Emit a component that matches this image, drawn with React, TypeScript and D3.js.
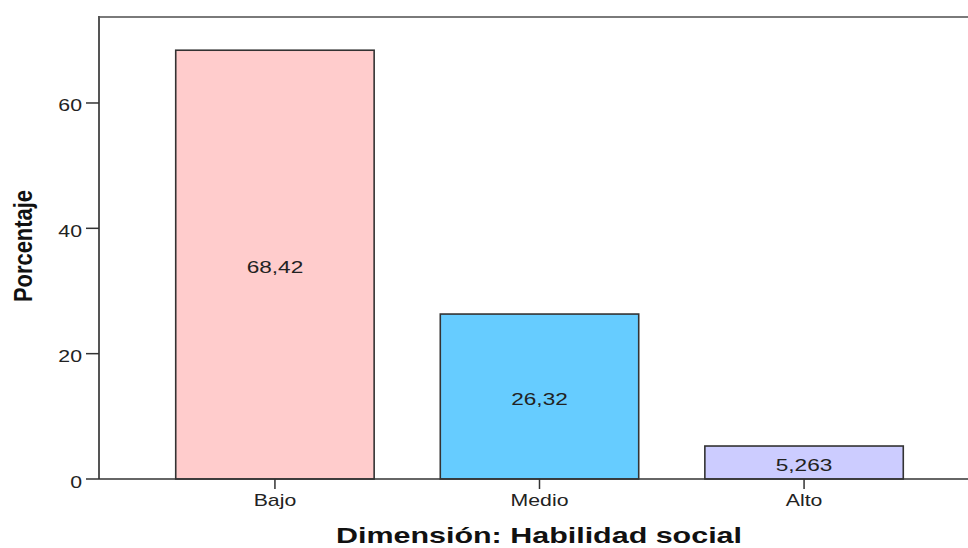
import React from "react";
import * as d3 from "d3";

const categories = ["Bajo", "Medio", "Alto"];
const percentages = [68.42, 26.32, 5.263];
const valueLabels = ["68,42", "26,32", "5,263"];
const barColors = ["#FFCCCC", "#66CCFF", "#CCCCFF"];
const yTicks = [0, 20, 40, 60];
const xTitle = "Dimensión: Habilidad social";
const yTitle = "Porcentaje";

const W = 968;
const H = 548;
const left = 99;
const top = 17;
const bottom = 479;
const SX = 1.33;
const font = "'Liberation Sans', Arial, sans-serif";

export default function App() {
  const x = d3
    .scaleBand<string>()
    .domain(categories)
    .range([left, 980])
    .paddingInner(0.25)
    .paddingOuter(0.29);
  const y = d3.scaleLinear().domain([0, 73.72]).range([bottom, top]);

  return (
    <svg
      width={W}
      height={H}
      style={{ position: "absolute", left: 0, top: 0, background: "#fff" }}
      fontFamily={font}
    >
      <rect x={0} y={0} width={W} height={H} fill="#fff" />
      {/* frame top */}
      <line x1={left} x2={W} y1={top} y2={top} stroke="#7a7a7a" strokeWidth={2} />
      {/* bars */}
      {categories.map((c, i) => {
        const x0 = x(c)!;
        const y0 = y(percentages[i]);
        return (
          <g key={c}>
            <rect
              x={x0}
              y={y0}
              width={x.bandwidth()}
              height={bottom - y0}
              fill={barColors[i]}
              stroke="#333"
              strokeWidth={1.6}
            />
            <text
              transform={`translate(${x0 + x.bandwidth() / 2},${(y0 + bottom) / 2 + 8.5}) scale(${SX},1)`}
              textAnchor="middle"
              fontSize={17}
              fill="#222"
            >
              {valueLabels[i]}
            </text>
          </g>
        );
      })}
      {/* left axis */}
      <line x1={left} x2={left} y1={top - 1} y2={bottom} stroke="#555" strokeWidth={2} />
      {yTicks.map((t) => (
        <g key={t}>
          <line x1={left - 13} x2={left} y1={y(t)} y2={y(t)} stroke="#333" strokeWidth={1.5} />
          <text
            transform={`translate(${left - 17},${y(t) + 8.5}) scale(${SX},1)`}
            textAnchor="end"
            fontSize={16}
            fill="#222"
          >
            {t}
          </text>
        </g>
      ))}
      {/* bottom axis */}
      <line x1={left} x2={W} y1={bottom} y2={bottom} stroke="#333" strokeWidth={1.6} />
      {categories.map((c) => {
        const cx = x(c)! + x.bandwidth() / 2;
        return (
          <g key={c}>
            <line x1={cx} x2={cx} y1={bottom} y2={bottom + 10} stroke="#333" strokeWidth={1.5} />
            <text
              transform={`translate(${cx},${bottom + 26.5}) scale(${SX},1)`}
              textAnchor="middle"
              fontSize={16}
              fill="#222"
            >
              {c}
            </text>
          </g>
        );
      })}
      {/* titles */}
      <text
        x={539}
        y={543}
        textAnchor="middle"
        fontSize={22}
        fontWeight="bold"
        textLength={406}
        lengthAdjust="spacingAndGlyphs"
        fill="#111"
      >
        {xTitle}
      </text>
      <text
        transform={`translate(32,246) rotate(-90)`}
        textAnchor="middle"
        fontSize={26}
        fontWeight="bold"
        textLength={112}
        lengthAdjust="spacingAndGlyphs"
        fill="#111"
      >
        {yTitle}
      </text>
    </svg>
  );
}
